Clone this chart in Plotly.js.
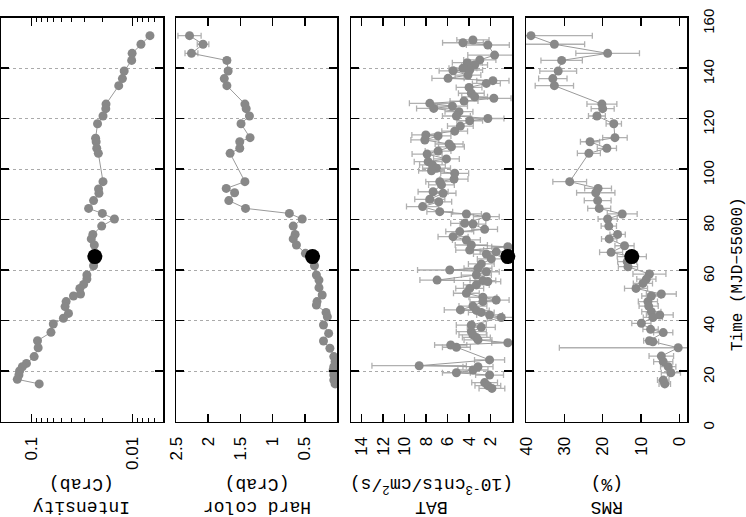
<!DOCTYPE html>
<html><head><meta charset="utf-8">
<script src="https://cdn.plot.ly/plotly-3.0.1.min.js"></script>
<style>html,body{margin:0;padding:0;background:#fff}#chart{width:746px;height:517px}</style>
</head><body><div id="chart"></div>
<script>
// ---- Data (time in MJD-55000) ----
const intTime = [152.8,149.4,145.8,143.0,138.8,135.8,133.0,125.7,123.9,121.0,117.9,112.2,110.8,108.2,106.2,95.0,92.1,90.4,87.5,84.4,82.4,80.2,77.4,74.1,72.3,69.9,65.3,61.7,58.0,56.4,54.3,52.7,50.5,49.7,47.5,45.5,42.8,40.9,38.6,35.3,32.0,29.2,25.7,23.0,21.7,20.0,18.4,16.7,14.9];
const intVal  = [0.00673,0.00826,0.0101,0.0102,0.0121,0.0126,0.0137,0.0183,0.0184,0.0196,0.0222,0.0232,0.0229,0.0226,0.0218,0.0196,0.0217,0.0215,0.0243,0.0272,0.0199,0.0151,0.0202,0.0247,0.0256,0.0239,0.0236,0.0243,0.0283,0.0283,0.0305,0.0332,0.0327,0.0384,0.0454,0.0465,0.043,0.0483,0.0608,0.0641,0.0871,0.0858,0.094,0.112,0.123,0.131,0.133,0.138,0.0838];

const hcTime = [152.8,149.4,145.8,143.0,138.8,135.8,133.0,125.7,123.9,121.0,117.9,112.4,110.8,108.2,106.2,95.0,92.3,90.6,87.5,84.4,82.4,80.2,77.4,74.1,72.3,69.9,66.6,65.3,61.7,58.0,56.0,53.0,50.1,47.5,46.1,43.2,41.5,38.2,34.9,31.9,29.0,25.7,23.7,21.7,20.4,18.4,16.4,14.9];
const hcVal  = [2.29,2.08,2.26,1.71,1.69,1.75,1.71,1.43,1.41,1.36,1.49,1.35,1.51,1.51,1.66,1.43,1.72,1.59,1.68,1.42,0.74,0.54,0.68,0.65,0.68,0.63,0.49,0.38,0.35,0.32,0.28,0.28,0.23,0.31,0.32,0.17,0.15,0.21,0.13,0.21,0.11,0.05,0.03,0.05,0.06,0.05,0.05,0.03];
const hcErr  = [0.18,0.09,0.10,0.05,0.04,0.04,0.03,0.03,0.03,0.03,0.03,0.03,0.03,0.03,0.03,0.03,0.03,0.03,0.03,0.03,0.02,0.02,0.02,0.02,0.02,0.02,0.02,0.02,0.02,0.02,0.02,0.02,0.02,0.02,0.02,0.02,0.02,0.02,0.02,0.02,0.02,0.02,0.02,0.02,0.02,0.02,0.02,0.02];

const batTime = [151.1,150.0,149.1,145.1,143.2,142.1,141.2,139.9,139.2,138.9,137.2,135.9,135.0,133.9,132.3,130.0,128.6,128.0,126.9,126.0,124.9,124.0,122.7,121.0,120.0,119.1,117.0,115.0,113.5,113.1,111.5,109.9,108.8,107.1,105.9,104.0,102.9,101.6,100.3,99.3,98.3,96.0,95.0,93.7,91.0,90.4,88.0,87.0,85.1,83.1,82.2,81.1,78.5,78.2,76.1,75.2,73.2,71.9,69.9,69.2,67.9,67.2,66.3,64.4,62.4,60.7,60.0,59.3,58.0,56.0,55.8,55.4,54.1,52.7,50.8,49.2,48.1,47.5,45.7,44.2,44.0,43.2,42.2,41.2,38.2,37.3,35.6,34.3,33.3,32.3,31.2,30.3,29.4,24.4,22.1,21.7,20.4,19.3,18.4,15.4,14.2,13.1];
const batVal  = [3.64,4.57,2.25,1.62,3.0,4.16,3.48,4.57,3.94,5.49,4.1,5.96,1.78,2.39,4.0,3.79,3.48,1.69,4.47,7.66,5.55,7.29,4.94,5.18,2.25,3.94,4.81,5.34,8.03,6.89,8.12,5.86,5.64,6.89,7.91,6.11,7.81,7.41,7.03,7.5,5.34,5.4,6.73,6.57,7.35,6.42,7.66,6.82,8.33,6.73,4.25,2.39,4.41,3.64,2.55,4.87,5.49,4.25,3.79,0.39,3.94,1.47,2.39,1.93,2.86,3.17,5.8,2.39,3.32,6.98,2.71,2.25,3.32,3.94,4.25,2.71,1.47,2.71,3.64,4.81,3.32,2.86,2.09,1.0,3.79,2.86,3.79,3.64,3.32,3.17,0.39,5.71,5.18,2.09,8.65,3.17,3.64,5.18,2.09,2.55,2.25,1.87];
const batErr  = [1.5,1.9,2.0,2.5,1.5,1.4,1.2,1.3,1.2,1.3,1.2,1.5,1.5,1.3,1.2,1.2,1.2,1.6,1.3,1.9,1.4,1.6,1.3,1.3,1.5,1.2,1.2,1.2,1.3,1.2,1.3,1.3,1.2,1.2,1.4,1.2,1.3,1.2,1.3,1.2,1.3,1.3,1.3,1.2,1.4,1.2,1.4,1.2,1.5,1.2,1.4,1.2,1.3,1.2,1.2,1.3,1.4,1.3,1.5,1.5,1.3,1.5,1.2,1.3,1.2,1.3,3.0,1.2,1.4,1.6,1.2,1.2,1.2,1.3,1.2,1.3,1.2,1.2,1.3,1.5,1.2,1.2,1.2,1.3,1.4,1.3,1.4,1.3,1.3,1.3,1.5,1.5,1.3,1.4,4.4,1.4,1.4,1.3,1.3,1.2,1.2,1.2];

const rmsTime = [152.8,149.4,145.8,143.0,138.8,135.8,133.0,125.7,123.9,121.0,117.9,112.4,110.8,108.2,106.2,95.0,92.3,90.6,87.5,84.4,82.2,80.2,77.4,74.1,72.3,69.6,67.0,65.3,63.3,61.3,58.4,56.4,54.7,52.7,50.5,49.7,47.5,45.7,43.5,42.2,41.2,38.9,36.5,35.2,32.0,31.6,29.2,25.9,23.7,21.7,19.3,16.4,14.9];
const rmsVal  = [38.7,32.6,18.7,30.7,31.6,33.0,32.6,20.2,20.0,21.5,17.1,16.8,23.3,18.9,23.6,28.6,21.2,21.8,21.3,20.9,14.9,18.7,18.4,16.1,18.3,14.3,17.8,12.4,13.6,13.4,7.8,8.6,9.5,11.3,4.7,7.3,8.2,8.0,7.3,5.1,6.9,9.9,7.5,4.2,7.8,6.9,0.3,4.7,4.2,2.9,2.2,4.2,3.8];
const rmsErr  = [16,7.9,8.3,5.4,4.8,3.7,5.0,3.9,3.0,2.2,2.0,3.2,2.5,2.5,3.0,4.4,3.5,5.0,3.5,3.0,3.9,2.5,2.0,2.0,2.0,2.5,3.0,3.8,2.5,2.5,4.3,2.5,2.5,3.0,3.9,2.5,2.5,2.5,2.5,3.5,2.5,2.5,2.0,2.5,1.5,1.5,31,3.2,2.5,2.0,2.5,1.5,1.5];

// highlighted observation (black dot)
const refTime = [65.3];
const refInt = [0.0236], refHc = [0.38], refBat = [0.39], refRms = [12.4];

// tick labels
const timeTicks = [0,20,40,60,80,100,120,140,160];
const intTicks = [0.1,0.01], intTickText = ['0.1','0.01'];
const intMinor = [0.2,0.09,0.08,0.07,0.06,0.05,0.04,0.03,0.02,0.009,0.008,0.007,0.006,0.005];
const hcTicks = [0.5,1,1.5,2,2.5], hcTickText = ['0.5','1','1.5','2','2.5'];
const batTicks = [2,4,6,8,10,12,14], batTickText = ['2','4','6','8','10','12','14'];
const rmsTicks = [0,10,20,30,40], rmsTickText = ['0','10','20','30','40'];

// ---- Layout ----
const W = 746, H = 517;
const panels = [[1,163],[176,337],[351,512],[526,687]];
const yTop = 17.5, yBot = 421.5;
const yDom = [1 - yBot/H, 1 - yTop/H];
const GRAY = '#888', LINE = '#9a9a9a', ERR = '#b0b0b0';

function yAx(i){
  const a = {
    domain: yDom, range:[0,160], autorange:false, tickmode:'array', tickvals: timeTicks,
    ticks:'inside', ticklen:8, tickwidth:1.8, tickcolor:'#000',
    showline:true, linecolor:'#000', linewidth:1.5, mirror:'ticks',
    showgrid:true, gridcolor:'#aaa', griddash:'dot', gridwidth:1, zeroline:false,
    showticklabels:false, anchor: i===0 ? 'x' : 'x'+(i+1)
  };
  if (i===3){
    a.side='right'; a.showticklabels=true; a.tickangle=-90;
    a.ticklabelstandoff = 7; a.ticklabelshift = 6;
    a.tickfont={family:'Liberation Sans, Arial, sans-serif', size:15, color:'#000'};
  }
  return a;
}
function xAx(i, extra){
  return Object.assign({
    domain:[panels[i][0]/W, panels[i][1]/W], autorange:false,
    ticks:'inside', ticklen:8, tickwidth:1.5, tickcolor:'#000',
    showline:true, linecolor:'#000', linewidth:1.5, mirror:'ticks',
    showgrid:false, zeroline:false, tickangle:-90, tickmode:'array',
    ticklabelstandoff: 7,
    tickfont:{family:'Liberation Sans, Arial, sans-serif', size:17, color:'#000'},
    anchor: i===0 ? 'y' : 'y'+(i+1)
  }, extra);
}

const titleY = 1 - 496/H;
const layout = {
  width: W, height: H, margin:{l:0,r:0,t:0,b:0},
  paper_bgcolor:'#fff', plot_bgcolor:'#fff', showlegend:false,
  xaxis:  xAx(0, {type:'log', range:[Math.log10(0.2), Math.log10(0.005)], tickvals:intTicks, ticktext:intTickText,
                  minor:{tickmode:'array', tickvals:intMinor, ticks:'inside', ticklen:4, tickwidth:1, tickcolor:'#000', showgrid:false}}),
  xaxis2: xAx(1, {range:[2.5,0], tickvals:hcTicks, ticktext:hcTickText}),
  xaxis3: xAx(2, {range:[15,0], tickvals:batTicks, ticktext:batTickText}),
  xaxis4: xAx(3, {range:[40,-2], tickvals:rmsTicks, ticktext:rmsTickText}),
  yaxis: yAx(0), yaxis2: yAx(1), yaxis3: yAx(2), yaxis4: yAx(3),
  annotations: [
    {text:'Intensity<br>(Crab)', x:82/W, y:titleY},
    {text:'Hard color<br>(Crab)', x:257/W, y:titleY},
    {text:'BAT<br>(10<sup>-3</sup>cnts/cm<sup>2</sup>/s)', x:431.5/W, y:titleY},
    {text:'RMS<br>(%)', x:607/W, y:titleY}
  ].map(a => Object.assign(a, {xref:'paper', yref:'paper', showarrow:false, textangle:180,
        xanchor:'center', yanchor:'middle',
        font:{family:'Liberation Mono, DejaVu Sans Mono, monospace', size:18, color:'#000'}}))
  .concat([{text:'Time (MJD\u221255000)', x:737.5/W, y:1-274.5/H, xref:'paper', yref:'paper',
            showarrow:false, textangle:-90, xanchor:'center', yanchor:'middle',
            font:{family:'Liberation Mono, DejaVu Sans Mono, monospace', size:16, color:'#000'}}])
};

function series(x, y, err, ax){
  const t = {type:'scatter', mode:'lines+markers', x:x, y:y, xaxis:'x'+ax, yaxis:'y'+ax,
    marker:{color:GRAY, size:9}, line:{color:LINE, width:1}, hoverinfo:'skip'};
  if (err) t.error_x = {type:'data', array:err, visible:true, color:ERR, thickness:1.3, width:3};
  return t;
}
function ref(x, ax){
  return {type:'scatter', mode:'markers', x:x, y:refTime, xaxis:'x'+ax, yaxis:'y'+ax,
    marker:{color:'#000', size:15}, cliponaxis:false, hoverinfo:'skip'};
}
const data = [
  series(intVal, intTime, null, ''), ref(refInt, ''),
  series(hcVal, hcTime, hcErr, '2'), ref(refHc, '2'),
  series(batVal, batTime, batErr, '3'), ref(refBat, '3'),
  series(rmsVal, rmsTime, rmsErr, '4'), ref(refRms, '4')
];
Plotly.newPlot('chart', data, layout, {staticPlot:true});
</script></body></html>
